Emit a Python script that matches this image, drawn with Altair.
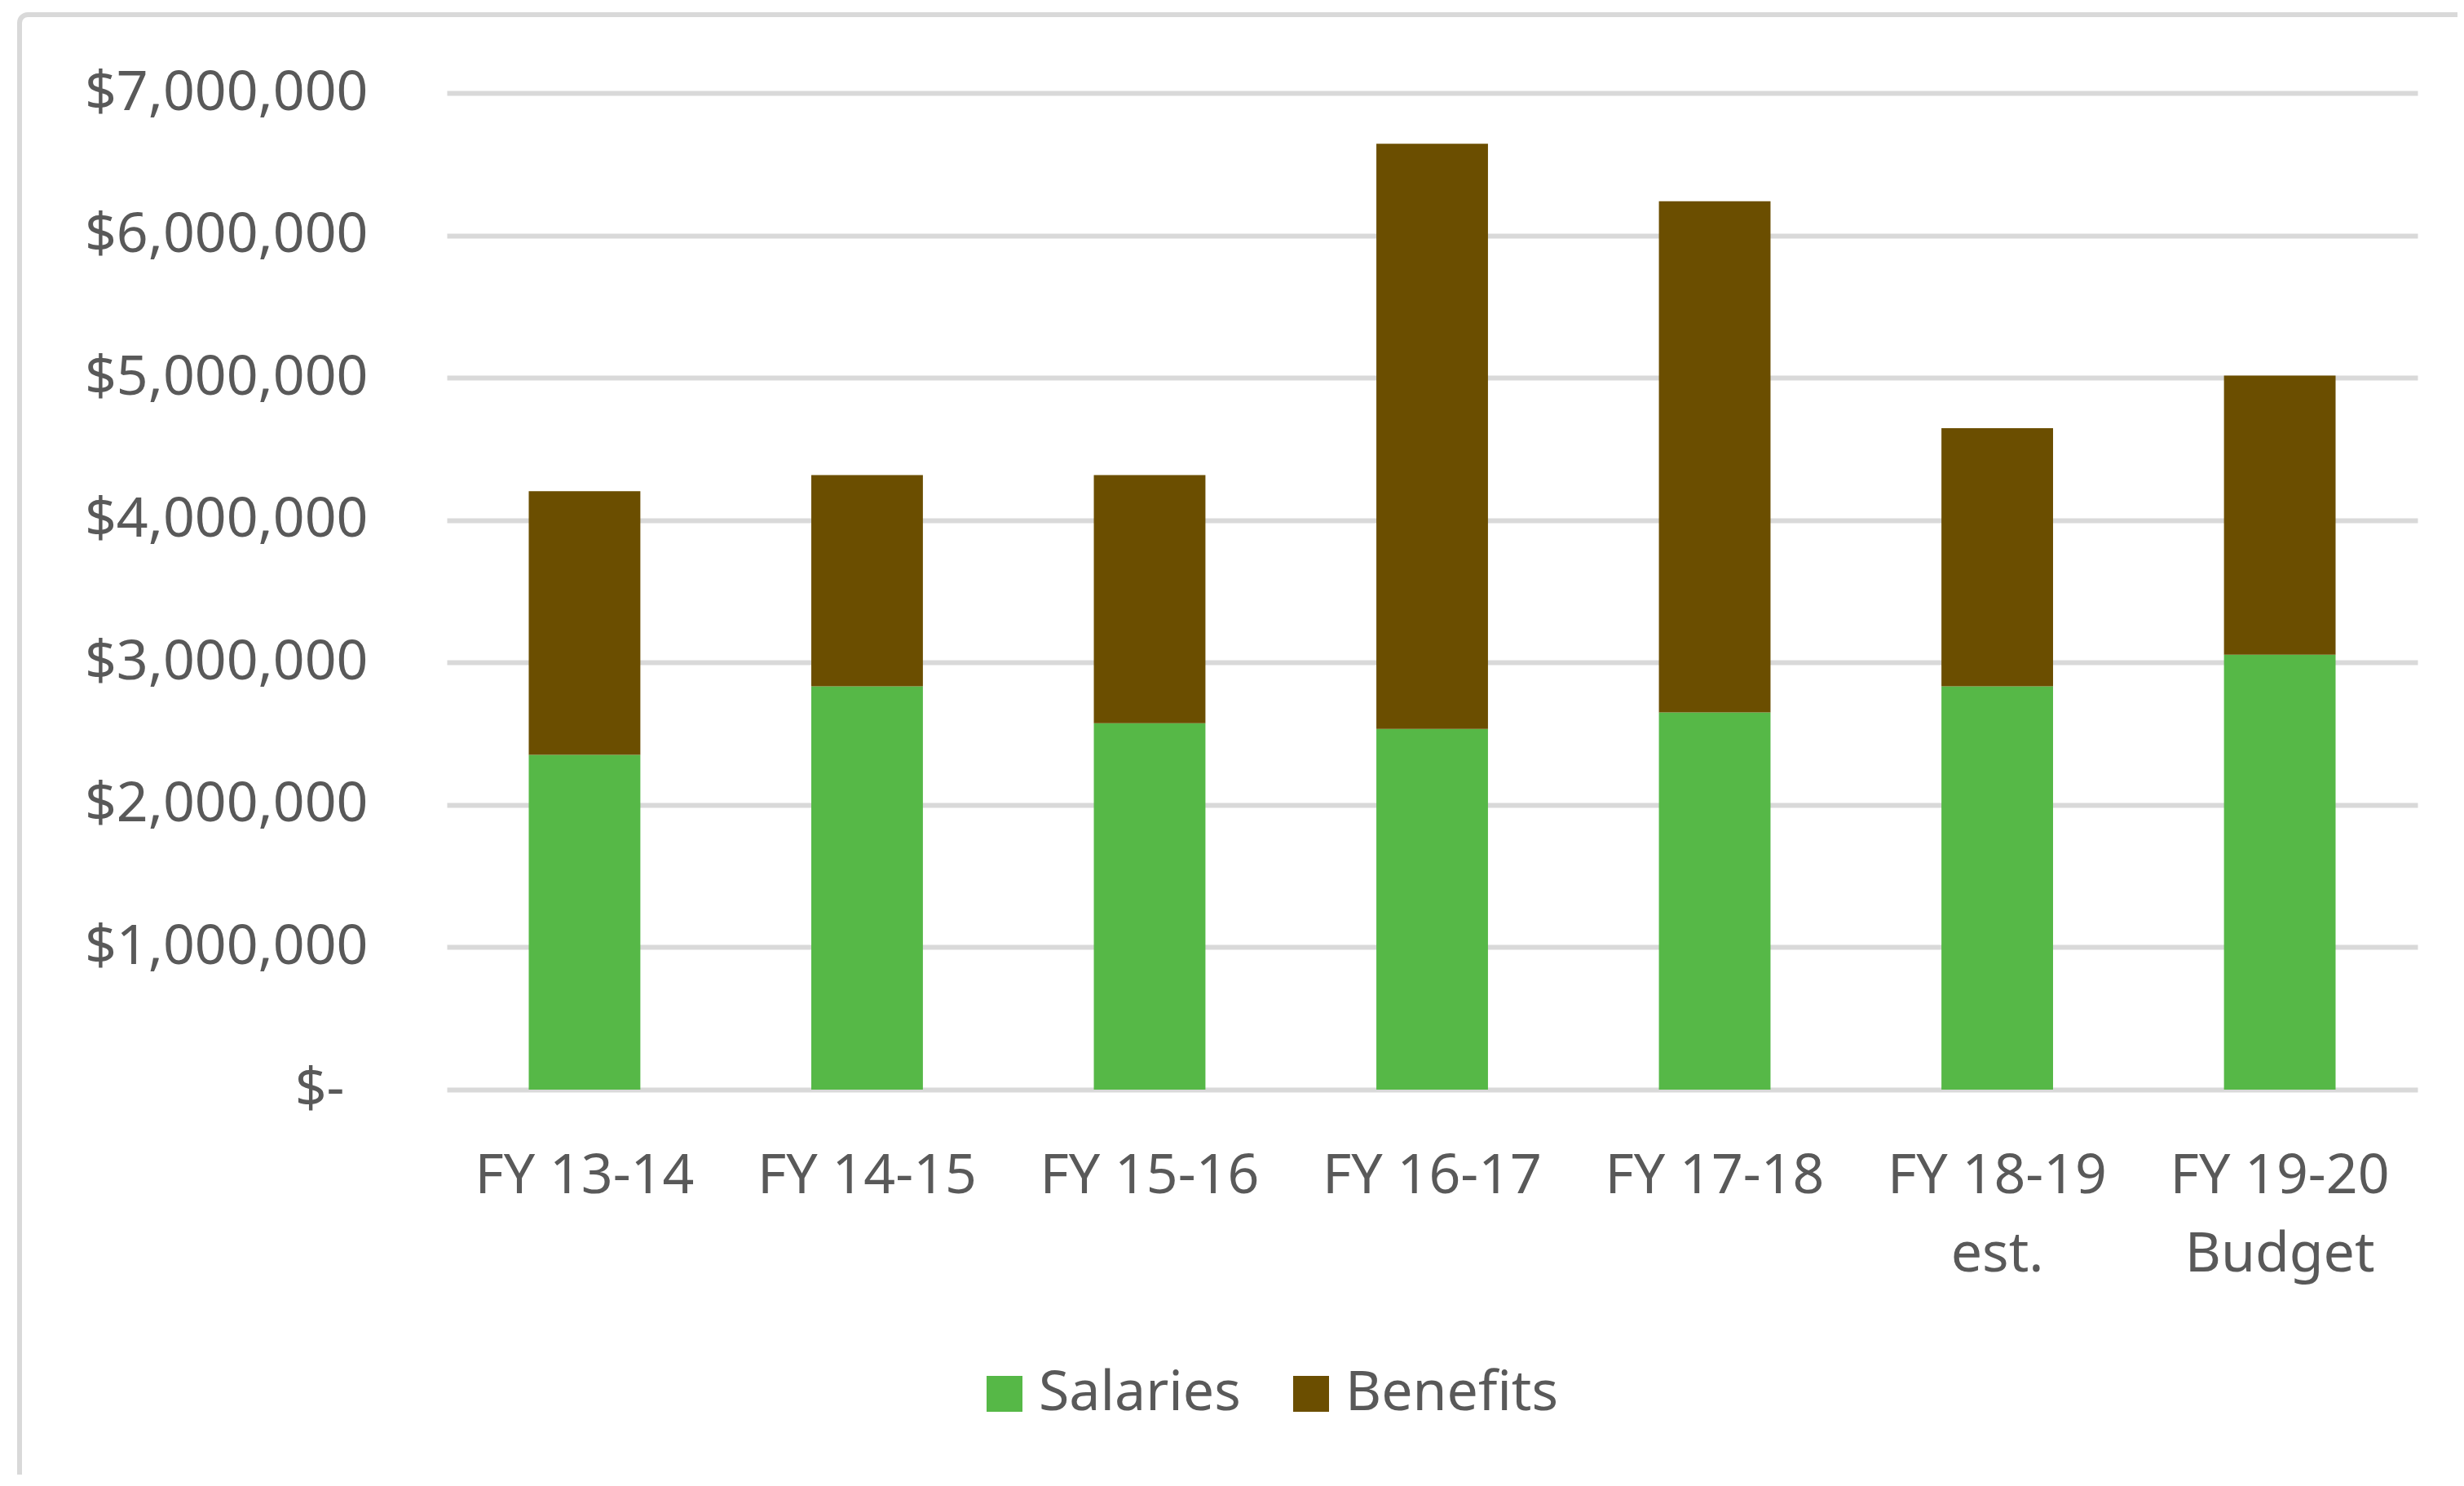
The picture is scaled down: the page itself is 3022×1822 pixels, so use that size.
import altair as alt
import pandas as pd

categories = ["FY 13-14", "FY 14-15", "FY 15-16", "FY 16-17", "FY 17-18",
              "FY 18-19 est.", "FY 19-20 Budget"]
salaries = [2352000, 2833000, 2574000, 2534000, 2649000, 2833000, 3055000]
benefits = [1851000, 1483000, 1742000, 4110000, 3590000, 1812000, 1960000]
series = ["Salaries", "Benefits"]
colors = ["#56B847", "#6B4E00"]
y_ticks = [0, 1000000, 2000000, 3000000, 4000000, 5000000, 6000000, 7000000]

rows = []
for i, c in enumerate(categories):
    rows.append({"cat": c, "series": "Salaries", "value": salaries[i], "ord": 0})
    rows.append({"cat": c, "series": "Benefits", "value": benefits[i], "ord": 1})
df = pd.DataFrame(rows)

FONT = "Noto Sans"
TXT = "#595959"
GRID = "#D9D9D9"

W, H = 2417, 1222

border = alt.Chart(pd.DataFrame({"a": [0]})).mark_rect(
    filled=False, stroke=GRID, strokeWidth=6, cornerRadius=10
).encode(
    x=alt.value(-524), x2=alt.value(2540),
    y=alt.value(-96), y2=alt.value(1780)
)

split_expr = ("lastindexof(datum.label, ' ') > 2 ? "
              "[substring(datum.label, 0, lastindexof(datum.label, ' ')), "
              "substring(datum.label, lastindexof(datum.label, ' ') + 1)] : datum.label")

ylab_expr = "datum.value == 0 ? '$-' : '$' + format(datum.value, ',')"

bars = alt.Chart(df).mark_bar().encode(
    x=alt.X("cat:N", sort=categories,
            scale=alt.Scale(paddingInner=0.605, paddingOuter=0.29),
            axis=alt.Axis(title=None, labelAngle=0, labelPadding=72,
                          labelFont=FONT, labelFontSize=68, labelColor=TXT,
                          labelLineHeight=96, labelLimit=1000,
                          ticks=False, tickSize=0, domain=False, grid=False,
                          labelExpr=split_expr)),
    y=alt.Y("value:Q", stack="zero",
            scale=alt.Scale(domain=[0, 7000000], nice=False),
            axis=alt.Axis(title=None, values=y_ticks, labelExpr=ylab_expr,
                          labelFont=FONT, labelFontSize=68, labelColor=TXT,
                          labelPadding={"condition": {"test": "datum.value == 0", "value": 126},
                                        "value": 97},
                          labelLimit=1000,
                          ticks=False, tickSize=0, domain=False,
                          grid=True, gridColor=GRID, gridWidth=6)),
    color=alt.Color("series:N",
                    scale=alt.Scale(domain=series, range=colors),
                    legend=alt.Legend(title=None, orient="none",
                                      legendX=650, legendY=1561,
                                      direction="horizontal",
                                      symbolType="square", symbolSize=1936,
                                      symbolStrokeWidth=0, symbolOpacity=1,
                                      labelFont=FONT, labelFontSize=68,
                                      labelColor=TXT, labelOffset=8,
                                      columnPadding=52, labelLimit=1000)),
    order=alt.Order("ord:Q", sort="ascending"),
)

chart = alt.layer(border, bars).properties(
    width=W, height=H,
    autosize=alt.AutoSizeParams(type="none"),
    padding={"left": 540, "top": 106, "right": 49, "bottom": 472},
    background="white",
).configure_view(stroke=None)

chart.save("out.html", embed_options={"renderer": "svg", "actions": False})
